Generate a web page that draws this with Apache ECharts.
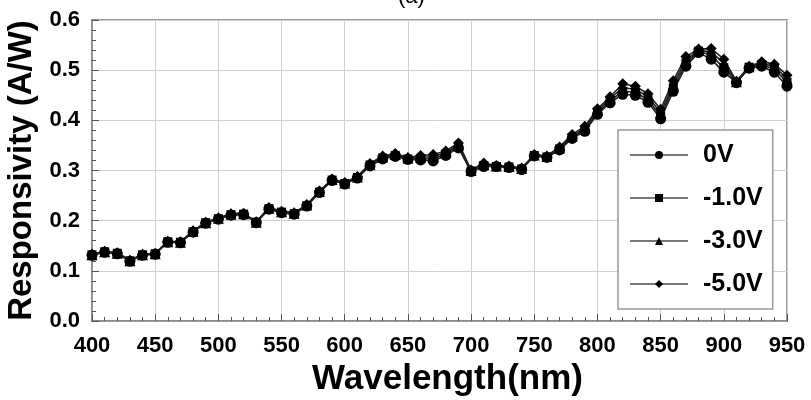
<!DOCTYPE html>
<html>
<head>
<meta charset="utf-8">
<script src="https://cdn.jsdelivr.net/npm/echarts@6/dist/echarts.min.js"></script>
<style>
  html, body { margin: 0; padding: 0; background: #fff; }
  #chart { width: 811px; height: 400px; }
</style>
</head>
<body>
<div id="chart"></div>
<script>
// wavelength (nm), one marker every 10 nm
var wavelength = [400, 410, 420, 430, 440, 450, 460, 470, 480, 490,
  500, 510, 520, 530, 540, 550, 560, 570, 580, 590,
  600, 610, 620, 630, 640, 650, 660, 670, 680, 690,
  700, 710, 720, 730, 740, 750, 760, 770, 780, 790,
  800, 810, 820, 830, 840, 850, 860, 870, 880, 890,
  900, 910, 920, 930, 940, 950];

// responsivity (A/W)
var resp0V = [0.131, 0.137, 0.134, 0.119, 0.131, 0.133, 0.157, 0.156, 0.177, 0.195,
  0.203, 0.211, 0.212, 0.196, 0.223, 0.216, 0.213, 0.229, 0.256, 0.280,
  0.273, 0.285, 0.309, 0.323, 0.328, 0.322, 0.321, 0.319, 0.330, 0.345,
  0.298, 0.308, 0.308, 0.306, 0.302, 0.329, 0.326, 0.341, 0.364, 0.378,
  0.412, 0.435, 0.452, 0.450, 0.436, 0.403, 0.458, 0.508, 0.535, 0.522,
  0.496, 0.475, 0.504, 0.508, 0.496, 0.468];
var resp1V = [0.132, 0.138, 0.135, 0.120, 0.132, 0.134, 0.158, 0.157, 0.178, 0.196,
  0.204, 0.212, 0.213, 0.197, 0.224, 0.217, 0.214, 0.230, 0.257, 0.281,
  0.274, 0.286, 0.311, 0.325, 0.330, 0.323, 0.324, 0.323, 0.333, 0.348,
  0.299, 0.310, 0.308, 0.307, 0.303, 0.330, 0.327, 0.343, 0.366, 0.381,
  0.415, 0.439, 0.458, 0.456, 0.441, 0.409, 0.465, 0.514, 0.538, 0.529,
  0.505, 0.476, 0.506, 0.511, 0.502, 0.476];
var resp3V = [0.132, 0.138, 0.135, 0.120, 0.132, 0.134, 0.158, 0.157, 0.179, 0.196,
  0.205, 0.213, 0.214, 0.197, 0.225, 0.218, 0.215, 0.231, 0.258, 0.282,
  0.275, 0.287, 0.312, 0.327, 0.332, 0.325, 0.327, 0.327, 0.336, 0.351,
  0.300, 0.312, 0.309, 0.308, 0.304, 0.331, 0.328, 0.345, 0.369, 0.384,
  0.419, 0.443, 0.465, 0.462, 0.447, 0.415, 0.472, 0.520, 0.540, 0.536,
  0.514, 0.477, 0.507, 0.514, 0.507, 0.483];
var resp5V = [0.133, 0.139, 0.136, 0.121, 0.133, 0.135, 0.159, 0.158, 0.180, 0.197,
  0.206, 0.214, 0.215, 0.198, 0.226, 0.219, 0.216, 0.232, 0.259, 0.283,
  0.276, 0.288, 0.314, 0.329, 0.334, 0.326, 0.330, 0.332, 0.339, 0.355,
  0.301, 0.315, 0.310, 0.309, 0.305, 0.332, 0.329, 0.347, 0.372, 0.388,
  0.423, 0.447, 0.473, 0.468, 0.453, 0.422, 0.479, 0.527, 0.542, 0.543,
  0.522, 0.478, 0.508, 0.517, 0.512, 0.490];

var seriesNames = ["0V", "-1.0V", "-3.0V", "-5.0V"];
var seriesSymbols = ["circle", "rect", "triangle", "diamond"];
var seriesValues = [resp0V, resp1V, resp3V, resp5V];

var font = '"Liberation Sans", Arial, sans-serif';

function pairs(values) {
  var out = [];
  for (var i = 0; i < wavelength.length; i++) {
    out.push([wavelength[i], values[i]]);
  }
  return out;
}

var series = [];
for (var s = 0; s < seriesNames.length; s++) {
  series.push({
    name: seriesNames[s],
    type: "line",
    data: pairs(seriesValues[s]),
    symbol: seriesSymbols[s],
    symbolSize: seriesSymbols[s] == "rect" ? 9 : 11,
    showAllSymbol: true,
    lineStyle: { color: "#222", width: 1.6 },
    itemStyle: { color: "#000" },
    animation: false,
  });
}

var chart = echarts.init(document.getElementById("chart"));
chart.setOption({
  animation: false,
  title: {
    text: "(a)",
    left: 398,
    top: -14,
    padding: 0,
    textStyle: { fontFamily: font, fontSize: 22, fontWeight: "normal", color: "#000" },
  },
  grid: {
    left: 92,
    right: 24,
    top: 20,
    bottom: 79,
    outerBoundsMode: "none",
    show: true,
    borderColor: "#999",
    borderWidth: 2,
  },
  legend: {
    orient: "vertical",
    left: 618,
    top: 130,
    width: 155,
    padding: [11, 10, 11, 11],
    itemGap: 15,
    itemWidth: 58,
    itemHeight: 10,
    borderColor: "#999",
    borderWidth: 1.5,
    backgroundColor: "#fff",
    data: seriesNames,
    itemStyle: { color: "#000" },
    lineStyle: { color: "#777", width: 2 },
    textStyle: {
      fontFamily: font,
      fontSize: 25,
      fontWeight: "bold",
      color: "#000",
      lineHeight: 28,
      padding: [0, 0, 0, 10],
    },
  },
  xAxis: {
    type: "value",
    min: 400,
    max: 950,
    interval: 50,
    name: "Wavelength(nm)",
    nameLocation: "middle",
    nameGap: 34,
    nameTextStyle: {
      fontFamily: font,
      fontSize: 35,
      fontWeight: "bold",
      color: "#000",
      padding: [0, 0, 0, 16],
    },
    axisLine: { lineStyle: { color: "#888", width: 1.5 } },
    axisTick: { inside: true, length: 7, lineStyle: { color: "#555" } },
    minorTick: { show: true, splitNumber: 5, length: 4, lineStyle: { color: "#555" } },
    axisLabel: { fontFamily: font, fontSize: 22, fontWeight: "bold", color: "#000", margin: 14 },
    splitLine: { show: true, lineStyle: { color: "#d0d0d0", width: 1 } },
  },
  yAxis: {
    type: "value",
    min: 0,
    max: 0.6,
    interval: 0.1,
    name: "Responsivity (A/W)",
    nameLocation: "middle",
    nameGap: 50,
    nameTextStyle: { fontFamily: font, fontSize: 33, fontWeight: "bold", color: "#000" },
    axisLine: { show: true, lineStyle: { color: "#888", width: 1.5 } },
    axisTick: { show: true, inside: true, length: 7, lineStyle: { color: "#555" } },
    minorTick: { show: true, splitNumber: 5, length: 4, lineStyle: { color: "#555" } },
    axisLabel: {
      fontFamily: font,
      fontSize: 22,
      fontWeight: "bold",
      color: "#000",
      margin: 12,
      formatter: function (v) { return v.toFixed(1); },
    },
    splitLine: { show: true, lineStyle: { color: "#d0d0d0", width: 1 } },
  },
  series: series,
});
</script>
</body>
</html>
